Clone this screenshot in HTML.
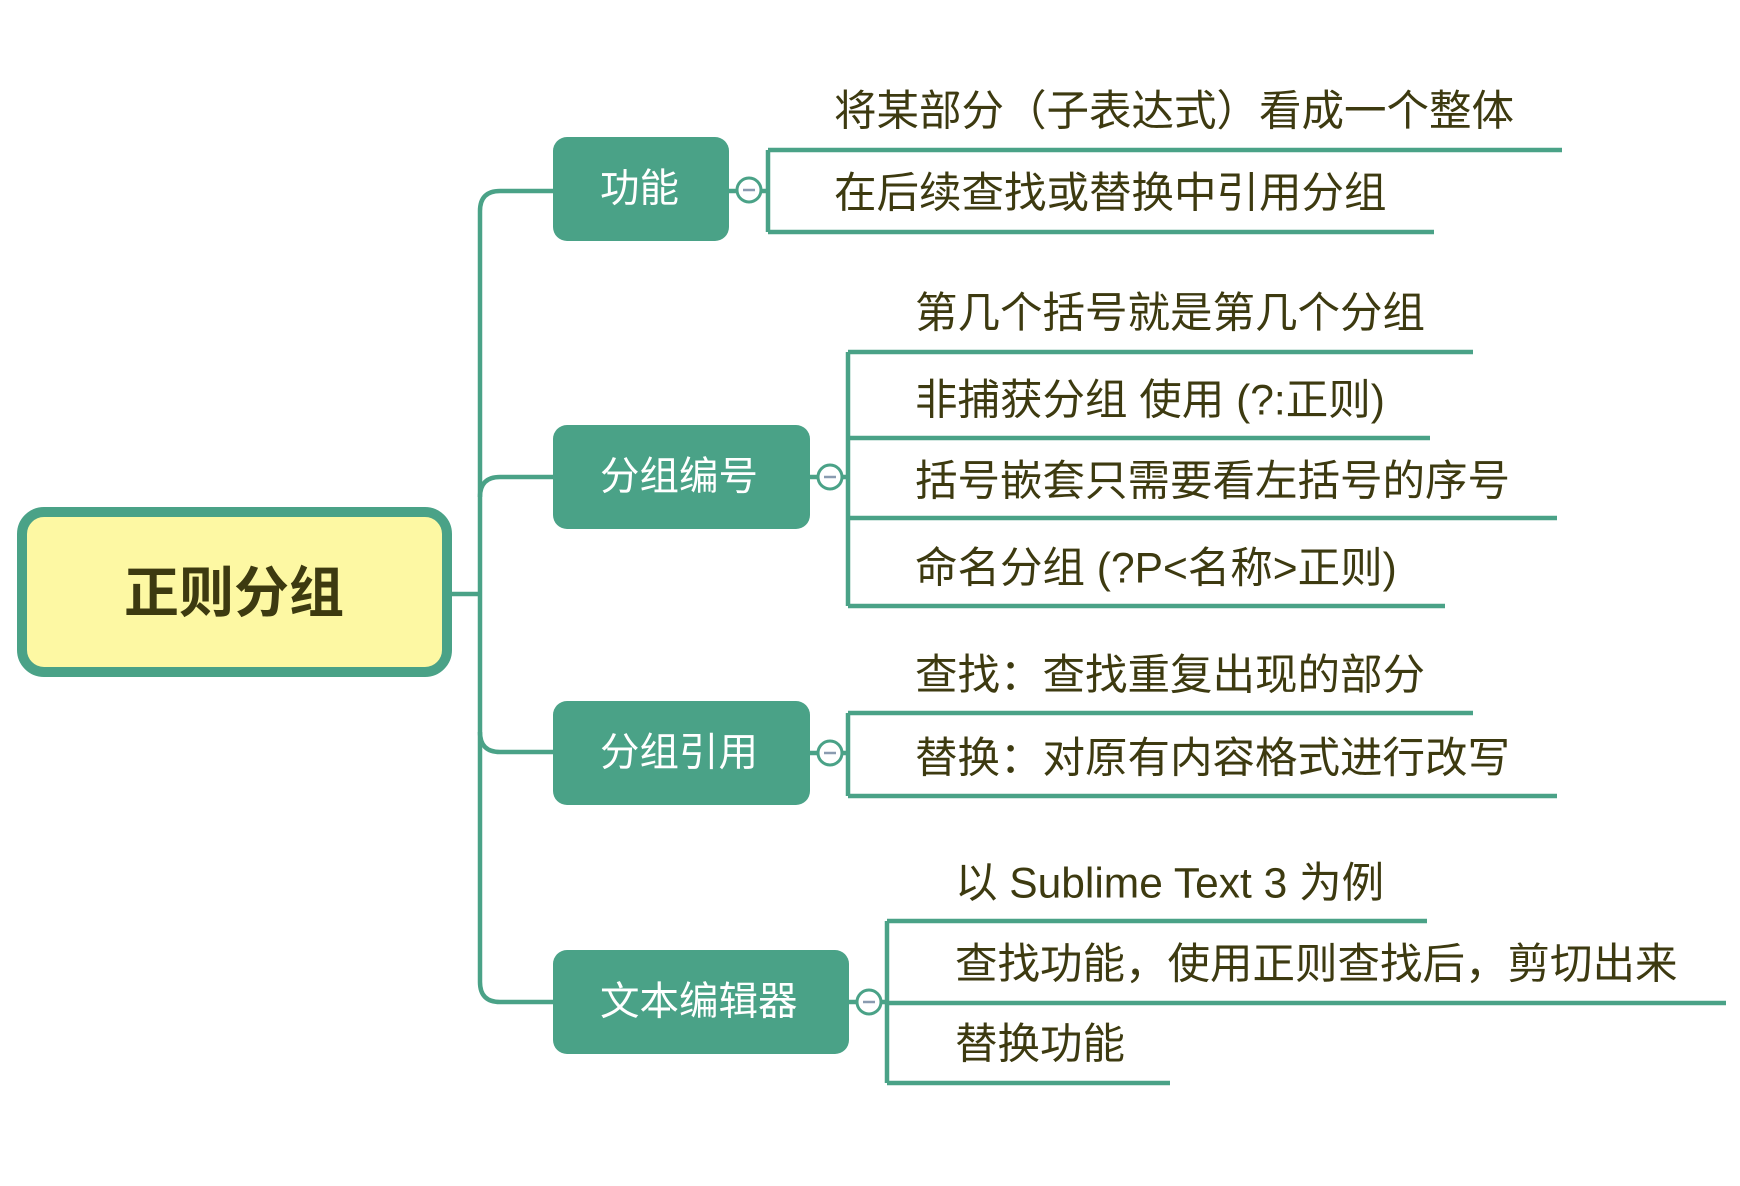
<!DOCTYPE html>
<html><head><meta charset="utf-8"><style>
html,body{margin:0;padding:0;background:#fff;}
svg{display:block;}
text{font-family:"Liberation Sans","Noto Sans CJK SC",sans-serif;}
</style></head><body>
<svg width="1740" height="1186" viewBox="0 0 1740 1186" xmlns="http://www.w3.org/2000/svg">
<g fill="none" stroke="#4aa287" stroke-width="4.5">
<path d="M452 594 H480"/>
<path d="M553 191 H500 Q480 191 480 211 V982 Q480 1002 500 1002 H553"/>
<path d="M480 497 Q480 477 500 477 H553"/>
<path d="M480 732 Q480 752 500 752 H553"/>
<path d="M729 191 H768"/>
<path d="M768 150 V232"/>
<path d="M768 150 H1562"/>
<path d="M768 232 H1434"/>
<path d="M810 477 H848"/>
<path d="M848 352 V606"/>
<path d="M848 352 H1473"/>
<path d="M848 438 H1430"/>
<path d="M848 518 H1557"/>
<path d="M848 606 H1445"/>
<path d="M810 753 H848"/>
<path d="M848 713 V796"/>
<path d="M848 713 H1473"/>
<path d="M848 796 H1557"/>
<path d="M849 1002 H887"/>
<path d="M887 921 V1083"/>
<path d="M887 921 H1427"/>
<path d="M887 1003 H1726"/>
<path d="M887 1083 H1170"/>
</g>
<rect x="22" y="512" width="425" height="160" rx="22" fill="#fdf8a3" stroke="#4aa287" stroke-width="10"/>
<text x="234" y="593" font-size="55" font-weight="bold" fill="#3d3a10" text-anchor="middle" dominant-baseline="central">正则分组</text>
<g fill="#4aa287">
<rect x="553" y="137" width="176" height="104" rx="14"/>
<rect x="553" y="425" width="257" height="104" rx="14"/>
<rect x="553" y="701" width="257" height="104" rx="14"/>
<rect x="553" y="950" width="296" height="104" rx="14"/>
</g>
<g fill="#fff" font-size="39.5" dominant-baseline="central">
<text x="600" y="189">功能</text>
<text x="600" y="477">分组编号</text>
<text x="600" y="753">分组引用</text>
<text x="600" y="1002">文本编辑器</text>
</g>
<g fill="#fff" stroke="#4aa287" stroke-width="3">
<circle cx="749" cy="190" r="12"/>
<circle cx="830" cy="477" r="12"/>
<circle cx="830" cy="753" r="12"/>
<circle cx="869" cy="1002" r="12"/>
</g>
<g stroke="#8a9bb0" stroke-width="2.5">
<path d="M743 190 H755"/><path d="M824 477 H836"/><path d="M824 753 H836"/><path d="M863 1002 H875"/>
</g>
<g fill="#3d3a10" font-size="42.5" dominant-baseline="central">
<text x="834" y="112">将某部分（子表达式）看成一个整体</text>
<text x="834" y="194">在后续查找或替换中引用分组</text>
<text x="915" y="314">第几个括号就是第几个分组</text>
<text x="915" y="401">非捕获分组 使用 (?:正则)</text>
<text x="915" y="482">括号嵌套只需要看左括号的序号</text>
<text x="915" y="569">命名分组 (?P&lt;名称&gt;正则)</text>
<text x="915" y="676">查找：查找重复出现的部分</text>
<text x="915" y="759">替换：对原有内容格式进行改写</text>
<text x="955" y="884">以 Sublime Text 3 为例</text>
<text x="955" y="965">查找功能，使用正则查找后，剪切出来</text>
<text x="955" y="1045">替换功能</text>
</g>
</svg>
</body></html>
